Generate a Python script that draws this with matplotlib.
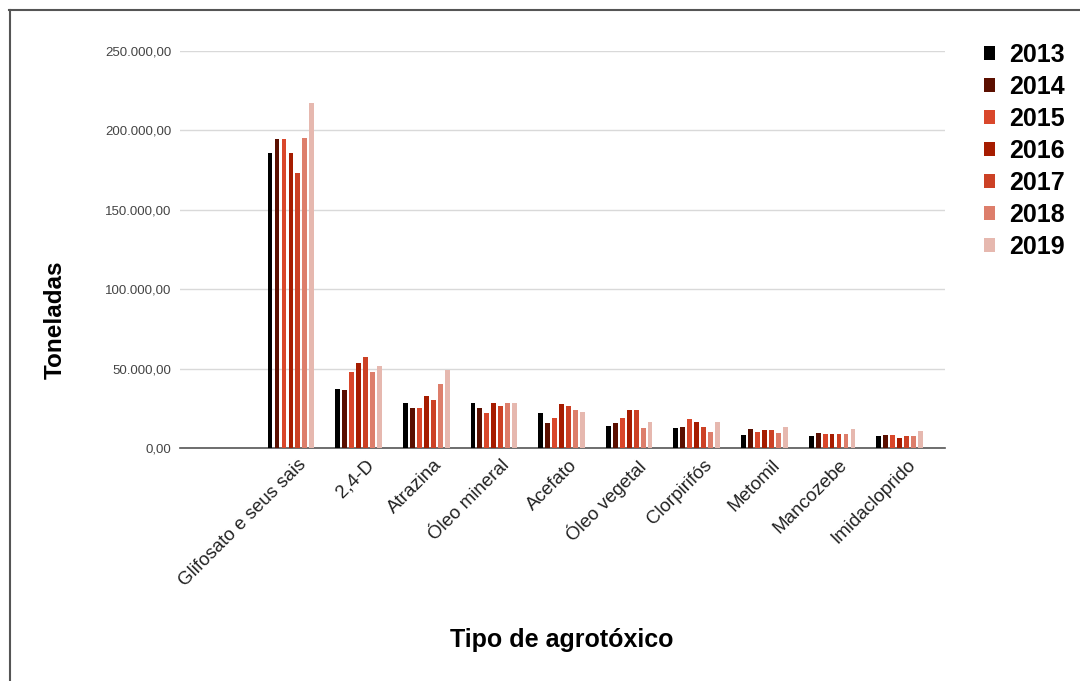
import matplotlib.pyplot as plt
import numpy as np
from matplotlib.lines import Line2D
from matplotlib.patches import Patch
from matplotlib.ticker import FuncFormatter

plt.rcParams['font.family'] = ['Liberation Sans', 'DejaVu Sans']

produtos = ["Glifosato e seus sais", "2,4-D", "Atrazina", "Óleo mineral", "Acefato",
            "Óleo vegetal", "Clorpirifós", "Metomil", "Mancozebe", "Imidacloprido"]
anos = ["2013", "2014", "2015", "2016", "2017", "2018", "2019"]

# toneladas por ano, na ordem de 'produtos'
t2013 = [185950, 36960, 28500, 28100, 21800, 14000, 12800, 8200, 7800, 7600]
t2014 = [194400, 36500, 25400, 25400, 16000, 15500, 13400, 12000, 9700, 8200]
t2015 = [194400, 47700, 25400, 21800, 18700, 18700, 18100, 9900, 8800, 8200]
t2016 = [186000, 53300, 32900, 28100, 27500, 23900, 16600, 11300, 8800, 6500]
t2017 = [173000, 57100, 30200, 26700, 26400, 23900, 13400, 11300, 8800, 7700]
t2018 = [195000, 48100, 40300, 28100, 23900, 12800, 9900, 9200, 8800, 7700]
t2019 = [217000, 51600, 49200, 28100, 22500, 16200, 16200, 13400, 11800, 10900]
series = [t2013, t2014, t2015, t2016, t2017, t2018, t2019]

cores = ['#000000', '#5b0f00', '#d9472b', '#a61c00', '#cc4125', '#dd7e6b', '#e6b8af']

fig = plt.figure(figsize=(10.8, 6.81), dpi=100)
ax = fig.add_axes([0.1667, 0.342, 0.7083, 0.583])

x = np.arange(len(produtos))
passo = 0.103
larg = 0.072
for i, (vals, cor) in enumerate(zip(series, cores)):
    ax.bar(x + (i - 3) * passo, vals, width=larg, color=cor, zorder=3)

ax.set_xlim(-1.64, 9.67)
ax.set_ylim(0, 250000)
ax.set_yticks(np.arange(0, 250001, 50000))
ax.yaxis.set_major_formatter(FuncFormatter(
    lambda v, p: f"{v:,.2f}".replace(",", "X").replace(".", ",").replace("X", ".")))
ax.grid(axis='y', color='#d9d9d9', linewidth=1, zorder=0)
for s in ['top', 'right', 'left']:
    ax.spines[s].set_visible(False)
ax.spines['bottom'].set_color('#555555')
ax.spines['bottom'].set_linewidth(1.2)
ax.tick_params(axis='y', length=0, pad=6, labelsize=9.5, labelcolor='#444444')
ax.tick_params(axis='x', length=0, pad=6)
ax.set_xticks(x + 0.1)
ax.set_xticklabels(produtos, rotation=45, ha='right', rotation_mode='anchor',
                   fontsize=13.5, color='#222222')

fig.text(0.051, 0.53, "Toneladas", rotation=90, ha='center', va='center',
         fontsize=17.5, fontweight='bold')
fig.text(0.52, 0.06, "Tipo de agrotóxico", ha='center', va='center',
         fontsize=18, fontweight='bold')

handles = [Patch(facecolor=c, edgecolor='none') for c in cores]
leg = fig.legend(handles, anos, loc='upper left', bbox_to_anchor=(0.902, 0.952),
                 frameon=False, handlelength=0.45, handleheight=0.45,
                 handletextpad=0.55, labelspacing=0.32, borderaxespad=0,
                 prop={'weight': 'bold', 'size': 18})

# moldura da figura (topo e lateral esquerda)
fig.add_artist(Line2D([0.008, 1.0], [0.985, 0.985], color='#555555', linewidth=1.5))
fig.add_artist(Line2D([0.009, 0.009], [0.0, 0.985], color='#555555', linewidth=1.5))

fig.savefig("out.png", dpi=100)
